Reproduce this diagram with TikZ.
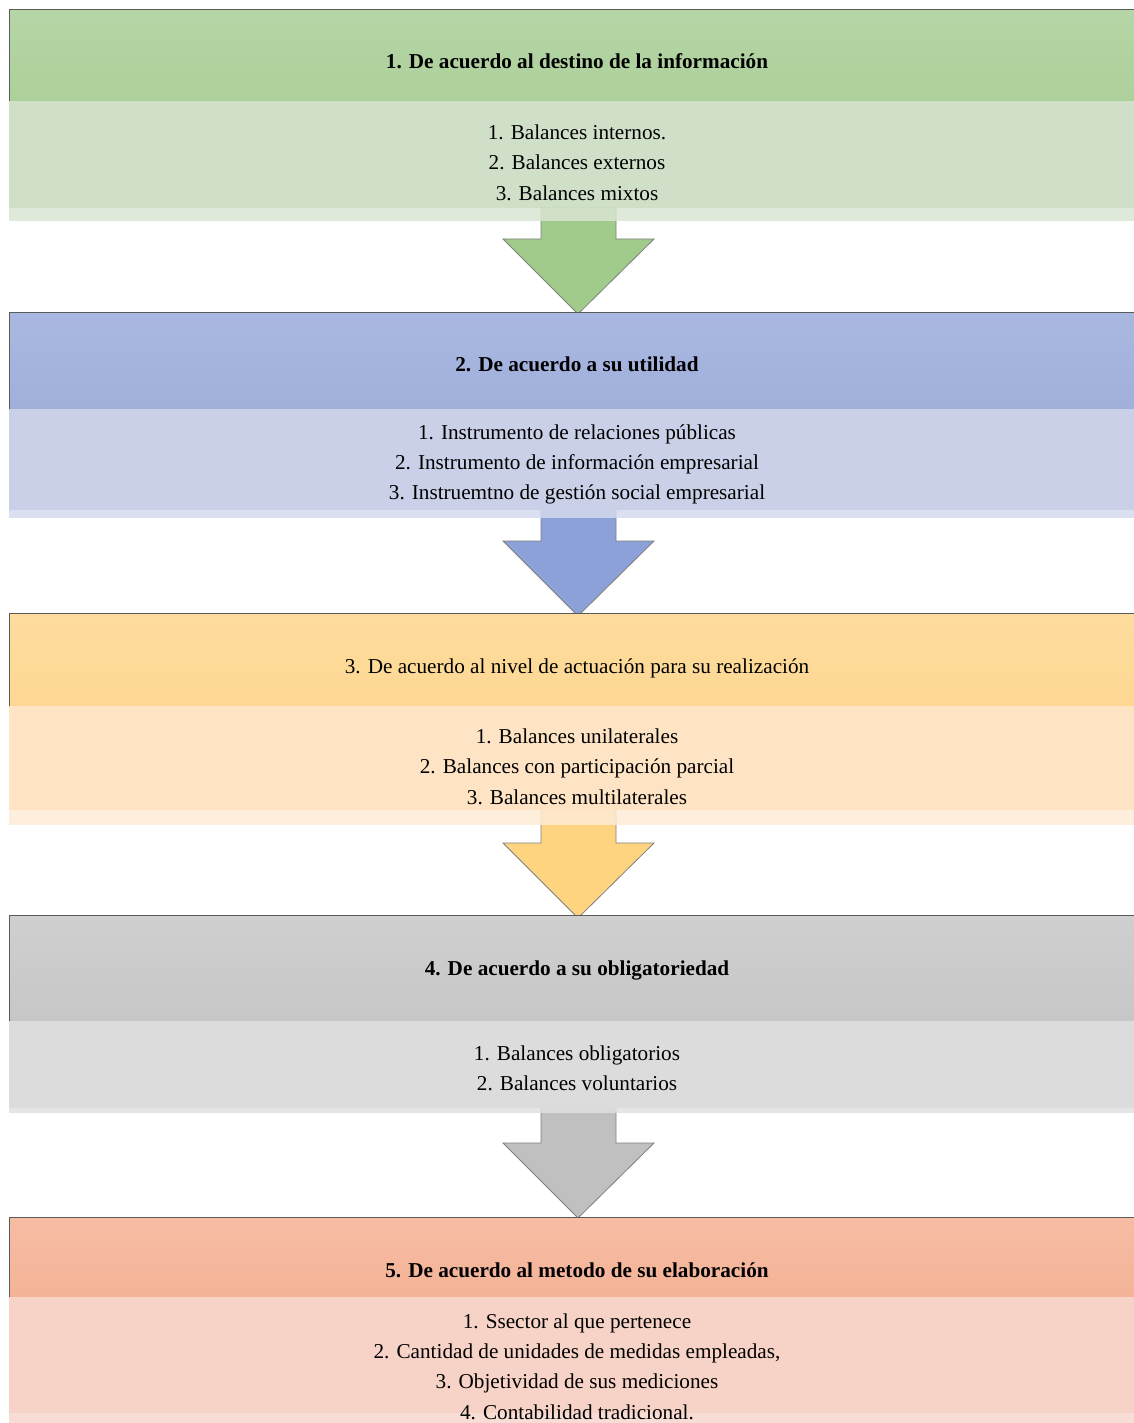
\documentclass[tikz,border=0pt]{standalone}
\usepackage{fontspec}
\setmainfont{Liberation Serif}
\usetikzlibrary{calc}
\definecolor{gHt}{HTML}{B5D5A6}\definecolor{gHb}{HTML}{ADD09B}\definecolor{gB}{HTML}{D0E0C8}\definecolor{gS}{HTML}{D9E5D3}\definecolor{gA}{HTML}{A0CB8A}
\definecolor{bHt}{HTML}{AAB8E1}\definecolor{bHb}{HTML}{A0B0DB}\definecolor{bB}{HTML}{CAD0E8}\definecolor{bS}{HTML}{D3D9EE}\definecolor{bA}{HTML}{8CA1D8}
\definecolor{oHt}{HTML}{FEDC9E}\definecolor{oHb}{HTML}{FED893}\definecolor{oB}{HTML}{FEE4C4}\definecolor{oS}{HTML}{FEEBD6}\definecolor{oA}{HTML}{FED480}
\definecolor{kHt}{HTML}{CFCFCF}\definecolor{kHb}{HTML}{C7C7C7}\definecolor{kB}{HTML}{DCDCDC}\definecolor{kS}{HTML}{E0E0E0}\definecolor{kA}{HTML}{C0C0C0}
\definecolor{sHt}{HTML}{F6BDA4}\definecolor{sHb}{HTML}{F4B397}\definecolor{sB}{HTML}{F6D3C6}\definecolor{sS}{HTML}{F7DDD4}
\definecolor{edge}{HTML}{5A5A5A}
\definecolor{aedge}{HTML}{7F7F7F}
\begin{document}
\begin{tikzpicture}[x=1pt,y=-1pt,
  txt/.style={font=\fontsize{21.2}{30.4}\selectfont, align=center, inner sep=0pt, text=black},
  ttl/.style={txt, anchor=base},
  bttl/.style={ttl, font=\fontsize{21.2}{25}\selectfont\bfseries},
  arrowshape/.style={draw=aedge, line width=0.8pt, line join=miter}]
\useasboundingbox (0,0) rectangle (1134,1423);

% Stage 1
\shade[top color=gHt, bottom color=gHb] (9,10) rectangle (1134,101);
\fill[gB] (9,101) rectangle (1134,208);
\filldraw[arrowshape, fill=gA] (541,208) -- (541,239) -- (503,239) -- (578,314) -- (654,239) -- (616,239) -- (616,208);
\fill[gS, opacity=0.85] (9,208) rectangle (1134,221);
\draw[edge, line width=1pt] (9,101) -- (9,10) -- (1134,10);
\node[bttl] (t1) at (577,69) {1. De acuerdo al destino de la información};
\node[txt] (l1) at (577,162.5) {1. Balances internos.\\2. Balances externos\\3. Balances mixtos};

% Stage 2
\shade[top color=bHt, bottom color=bHb] (9,312) rectangle (1134,409);
\fill[bB] (9,409) rectangle (1134,510);
\filldraw[arrowshape, fill=bA] (541,510) -- (541,541) -- (503,541) -- (578,616) -- (654,541) -- (616,541) -- (616,510);
\fill[bS, opacity=0.85] (9,510) rectangle (1134,518);
\draw[edge, line width=1pt] (9,409) -- (9,312) -- (1134,312);
\node[bttl] (t2) at (577,371) {2. De acuerdo a su utilidad};
\node[txt] (l2) at (577,464.5) {1. Instrumento de relaciones públicas\\2. Instrumento de información empresarial\\3. Instruemtno de gestión social empresarial};

% Stage 3
\shade[top color=oHt, bottom color=oHb] (9,613) rectangle (1134,706);
\fill[oB] (9,706) rectangle (1134,810);
\filldraw[arrowshape, fill=oA] (541,810) -- (541,843) -- (503,843) -- (578,918) -- (654,843) -- (616,843) -- (616,810);
\fill[oS, opacity=0.85] (9,810) rectangle (1134,825);
\draw[edge, line width=1pt] (9,706) -- (9,613) -- (1134,613);
\node[ttl] (t3) at (577,673) {3. De acuerdo al nivel de actuación para su realización};
\node[txt] (l3) at (577,766.5) {1. Balances unilaterales\\2. Balances con participación parcial\\3. Balances multilaterales};

% Stage 4
\shade[top color=kHt, bottom color=kHb] (9,915) rectangle (1134,1021);
\fill[kB] (9,1021) rectangle (1134,1108);
\filldraw[arrowshape, fill=kA] (541,1108) -- (541,1143) -- (503,1143) -- (578,1218) -- (654,1143) -- (616,1143) -- (616,1108);
\fill[kS, opacity=0.85] (9,1108) rectangle (1134,1113);
\draw[edge, line width=1pt] (9,1021) -- (9,915) -- (1134,915);
\node[bttl] (t4) at (577,975) {4. De acuerdo a su obligatoriedad};
\node[txt] (l4) at (577,1068) {1. Balances obligatorios\\2. Balances voluntarios};

% Stage 5
\shade[top color=sHt, bottom color=sHb] (9,1217) rectangle (1134,1297);
\fill[sB] (9,1297) rectangle (1134,1413);
\fill[sS] (9,1413) rectangle (1134,1423);
\draw[edge, line width=1pt] (9,1297) -- (9,1217) -- (1134,1217);
\node[bttl] (t5) at (577,1277) {5. De acuerdo al metodo de su elaboración};
\node[txt] (l5) at (577,1366.5) {1. Ssector al que pertenece\\2. Cantidad de unidades de medidas empleadas,\\3. Objetividad de sus mediciones\\4. Contabilidad tradicional.};
\end{tikzpicture}
\end{document}
